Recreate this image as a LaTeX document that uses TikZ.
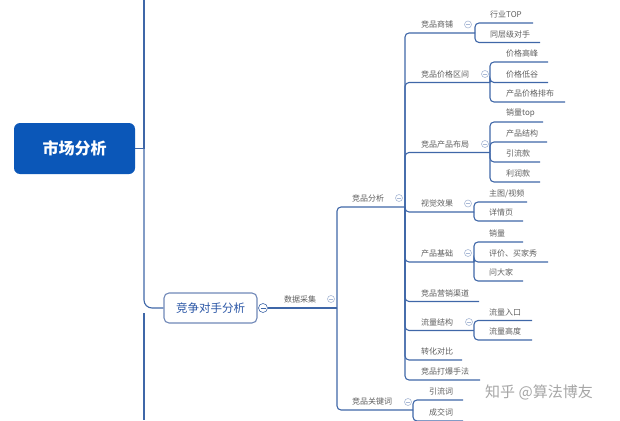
\documentclass[tikz,border=0pt]{standalone}
\usepackage{fontspec}
\setmainfont{Noto Sans CJK SC}
\definecolor{lc}{HTML}{3F67A8}
\definecolor{tc}{HTML}{5F5F5F}
\definecolor{tg}{HTML}{A9B9D6}
\definecolor{mainblue}{HTML}{0B57B8}
\definecolor{boxtext}{HTML}{2A56A6}
\definecolor{boxline}{HTML}{7088B8}
\tikzset{
  conn/.style={draw=lc, line width=1.1pt, rounded corners=4},
  lbl/.style={font=\fontsize{8}{9}\selectfont, text=tc, inner sep=0pt, anchor=west},
  tog/.style={circle, draw=tg, line width=0.6pt, fill=white, minimum size=7pt, inner sep=0pt,
    path picture={\draw[tg, line width=0.6pt] ([xshift=-2pt]path picture bounding box.center) -- ([xshift=2pt]path picture bounding box.center);}},
  togdark/.style={tog, draw=lc, minimum size=9pt,
    path picture={\draw[lc, line width=0.8pt] ([xshift=-2.5pt]path picture bounding box.center) -- ([xshift=2.5pt]path picture bounding box.center);}},
}
% #1 junction, #2 name, #3 text x, #4 line y, #5 end x, #6 text
\newcommand\mmleaf[6]{%
  \coordinate (#2-e) at (#5,#4);
  \node[lbl] (#2) at (#3,#4-8.5) {#6};
  \draw[conn] (#1) |- (#2-e);
}
\begin{document}
\begin{tikzpicture}[x=1pt,y=-1pt]
\useasboundingbox (0,0) rectangle (620,420);

% main node
\node[fill=mainblue, rounded corners=6pt, minimum width=121pt, minimum height=51pt, inner sep=0pt,
  text=white, font=\fontsize{16}{18}\selectfont\bfseries] (main) at (74.5,148.5) {市场分析};
\coordinate (Atop) at (144,0);
\coordinate (Amid) at (144,148.5);
\coordinate (Alow) at (144,313);
\coordinate (Abot) at (144,420);
\draw[conn] (main.east) -- (Amid);
\draw[conn] (Atop) -- (Amid);

% competitor box
\node[draw=boxline, line width=1.1pt, fill=white, rounded corners=5pt, minimum width=93pt, minimum height=30pt,
  inner sep=0pt, text=boxtext, font=\fontsize{11.5}{13}\selectfont] (comp) at (210.5,308) {竞争对手分析};
\draw[conn, rounded corners=8] (Amid) |- (comp.west);
\draw[conn] (Alow) -- (Abot);
\node[togdark] (t0) at (263,308) {};
\coordinate (Bj) at (337,308);
\draw[conn] (t0.east) -- (Bj);
\node[lbl] (sjcj) at (284,299.5) {数据采集};
\node[tog] (t1) at (331,299) {};

% level B
\mmleaf{Bj}{jpfx}{352}{207}{405}{竞品分析}
\mmleaf{Bj}{jpgjc}{352}{410}{413}{竞品关键词}
\node[tog] (t2) at (399,198) {};
\node[tog] (t3) at (408,402) {};
\coordinate (Cj) at (405,207);
\coordinate (Kj) at (413,410);

% level C
\mmleaf{Cj}{jpsp}{421}{33}{475}{竞品商铺}
\mmleaf{Cj}{jgqj}{421}{82.5}{490}{竞品价格区间}
\mmleaf{Cj}{cpbj}{421}{152.5}{490}{竞品产品布局}
\mmleaf{Cj}{sjxg}{421}{212}{474}{视觉效果}
\mmleaf{Cj}{cpjc}{421}{262}{474}{产品基础}
\mmleaf{Cj}{yxqd}{421}{301.5}{479}{竞品营销渠道}
\mmleaf{Cj}{lljg}{421}{330.5}{474}{流量结构}
\mmleaf{Cj}{zhdb}{421}{360}{462}{转化对比}
\mmleaf{Cj}{dbsf}{421}{380}{480}{竞品打爆手法}
\node[tog] (t4) at (468,24.5) {};
\node[tog] (t5) at (485,74) {};
\node[tog] (t6) at (485,144) {};
\node[tog] (t7) at (468,203.5) {};
\node[tog] (t8) at (468,253) {};
\node[tog] (t9) at (469,322) {};

% leaves
\mmleaf{jpsp-e}{l1}{490}{23}{533}{行业TOP}
\mmleaf{jpsp-e}{l2}{490}{42.5}{540}{同层级对手}
\mmleaf{jgqj-e}{l3}{506}{62}{548}{价格高峰}
\mmleaf{jgqj-e}{l4}{506}{82.5}{548}{价格低谷}
\mmleaf{jgqj-e}{l5}{506}{102}{565}{产品价格排布}
\mmleaf{cpbj-e}{l6}{506}{122}{543}{销量top}
\mmleaf{cpbj-e}{l7}{506}{142}{547}{产品结构}
\mmleaf{cpbj-e}{l8}{506}{162}{540}{引流款}
\mmleaf{cpbj-e}{l9}{506}{182}{540}{利润款}
\mmleaf{sjxg-e}{l10}{489}{202}{527}{主图/视频}
\mmleaf{sjxg-e}{l11}{489}{221}{523}{详情页}
\mmleaf{cpjc-e}{l12}{489}{242}{523}{销量}
\mmleaf{cpjc-e}{l13}{489}{262}{548}{评价、买家秀}
\mmleaf{cpjc-e}{l14}{489}{281}{523}{问大家}
\mmleaf{lljg-e}{l15}{489}{320.5}{532}{流量入口}
\mmleaf{lljg-e}{l16}{489}{340}{532}{流量高度}
\mmleaf{Kj}{l17}{429}{400}{463}{引流词}
\mmleaf{Kj}{l18}{429}{421}{463}{成交词}

% watermark
\node[text=black!35, font=\fontsize{15}{16}\selectfont, inner sep=0pt] (wm) at (539,392) {知乎 @算法博友};
\end{tikzpicture}
\end{document}
